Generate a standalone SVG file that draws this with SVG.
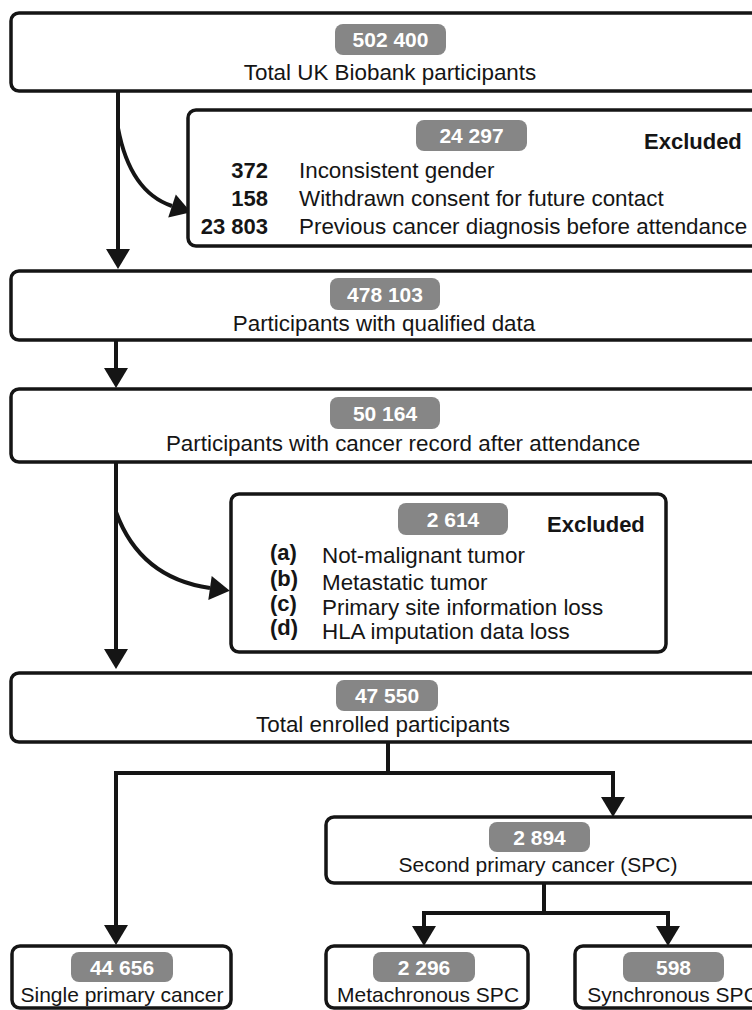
<svg xmlns="http://www.w3.org/2000/svg" width="752" height="1010" viewBox="0 0 752 1010">
<style>
.box{fill:#fff;stroke:#151515;stroke-width:3.5}
.badge{fill:#868686}
.bt{font-family:"Liberation Sans",Arial,sans-serif;font-weight:bold;font-size:21px;fill:#fff;text-anchor:middle}
.t{font-family:"Liberation Sans",Arial,sans-serif;font-size:22.4px;fill:#151515}
.s{font-size:21px}
.b{font-family:"Liberation Sans",Arial,sans-serif;font-weight:bold;font-size:22px;fill:#151515}
.c{text-anchor:middle}
.r{text-anchor:end}
.ln{fill:none;stroke:#151515;stroke-width:4}
</style>
<defs>
<marker id="ah" markerUnits="userSpaceOnUse" markerWidth="22" markerHeight="26" refX="0" refY="12" orient="auto" overflow="visible">
<path d="M0,0 L20,12 L0,24 z" fill="#151515"/>
</marker>
</defs>
<g id="connectors">
<path class="ln" d="M118,91 V249" marker-end="url(#ah)"/>
<path class="ln" d="M118,128 Q130,192 172,206" marker-end="url(#ah)"/>
<path class="ln" d="M116,340 V368" marker-end="url(#ah)"/>
<path class="ln" d="M116,462 V649" marker-end="url(#ah)"/>
<path class="ln" d="M116,512 Q140,578 210,588" marker-end="url(#ah)"/>
<path class="ln" d="M388,742 V773 M116,773 H613"/>
<path class="ln" d="M116,771 V925" marker-end="url(#ah)"/>
<path class="ln" d="M613,771 V797" marker-end="url(#ah)"/>
<path class="ln" d="M544,883 V913 M424,913 H668"/>
<path class="ln" d="M424,911 V926" marker-end="url(#ah)"/>
<path class="ln" d="M668,911 V926" marker-end="url(#ah)"/>
</g>
<g id="n1">
<rect class="box" x="11" y="13" width="770" height="78" rx="8"/>
<rect class="badge" x="335" y="24" width="111" height="31" rx="8"/>
<text class="bt" x="390.5" y="47">502 400</text>
<text class="t c" x="390" y="80">Total UK Biobank participants</text>
</g>
<g id="ex1">
<rect class="box" x="188" y="110" width="600" height="136" rx="8"/>
<rect class="badge" x="416" y="120" width="111" height="31" rx="8"/>
<text class="bt" x="471.5" y="143">24 297</text>
<text class="b" x="644" y="149">Excluded</text>
<text class="b r" x="268" y="178">372</text>
<text class="t" x="299" y="178">Inconsistent gender</text>
<text class="b r" x="268" y="206">158</text>
<text class="t" x="299" y="206">Withdrawn consent for future contact</text>
<text class="b r" x="268" y="234">23 803</text>
<text class="t" x="299" y="234">Previous cancer diagnosis before attendance</text>
</g>
<g id="n2">
<rect class="box" x="11" y="271" width="770" height="69" rx="8"/>
<rect class="badge" x="330" y="278" width="110" height="32" rx="8"/>
<text class="bt" x="385" y="302">478 103</text>
<text class="t c" x="384" y="331">Participants with qualified data</text>
</g>
<g id="n3">
<rect class="box" x="11" y="389" width="770" height="73" rx="8"/>
<rect class="badge" x="330" y="397" width="110" height="32" rx="8"/>
<text class="bt" x="385" y="421">50 164</text>
<text class="t c" x="403" y="451">Participants with cancer record after attendance</text>
</g>
<g id="ex2">
<rect class="box" x="231" y="494" width="435" height="158" rx="8"/>
<rect class="badge" x="398" y="503" width="110" height="32" rx="8"/>
<text class="bt" x="453" y="527">2 614</text>
<text class="b" x="547" y="532">Excluded</text>
<text class="b" x="270" y="560">(a)</text>
<text class="t" x="322" y="563">Not-malignant tumor</text>
<text class="b" x="270" y="586">(b)</text>
<text class="t" x="322" y="590">Metastatic tumor</text>
<text class="b" x="270" y="611">(c)</text>
<text class="t" x="322" y="615">Primary site information loss</text>
<text class="b" x="270" y="635">(d)</text>
<text class="t" x="322" y="639">HLA imputation data loss</text>
</g>
<g id="n4">
<rect class="box" x="11" y="673" width="770" height="69" rx="8"/>
<rect class="badge" x="336" y="680" width="102" height="31" rx="8"/>
<text class="bt" x="387" y="703">47 550</text>
<text class="t c" x="383" y="732">Total enrolled participants</text>
</g>
<g id="n5">
<rect class="box" x="326" y="817" width="460" height="66" rx="8"/>
<rect class="badge" x="489" y="822" width="101" height="30" rx="8"/>
<text class="bt" x="539.5" y="845">2 894</text>
<text class="t s c" x="538" y="872">Second primary cancer (SPC)</text>
</g>
<g id="n6">
<rect class="box" x="12" y="946" width="219" height="62" rx="8"/>
<rect class="badge" x="71" y="952" width="102" height="30" rx="8"/>
<text class="bt" x="122" y="975">44 656</text>
<text class="t s c" x="122" y="1002">Single primary cancer</text>
</g>
<g id="n7">
<rect class="box" x="326" y="946" width="202" height="62" rx="8"/>
<rect class="badge" x="373" y="952" width="102" height="30" rx="8"/>
<text class="bt" x="424" y="975">2 296</text>
<text class="t s c" x="428" y="1002">Metachronous SPC</text>
</g>
<g id="n8">
<rect class="box" x="575" y="946" width="220" height="62" rx="8"/>
<rect class="badge" x="623" y="952" width="101" height="30" rx="8"/>
<text class="bt" x="673.5" y="975">598</text>
<text class="t s c" x="673" y="1002">Synchronous SPC</text>
</g>
</svg>
